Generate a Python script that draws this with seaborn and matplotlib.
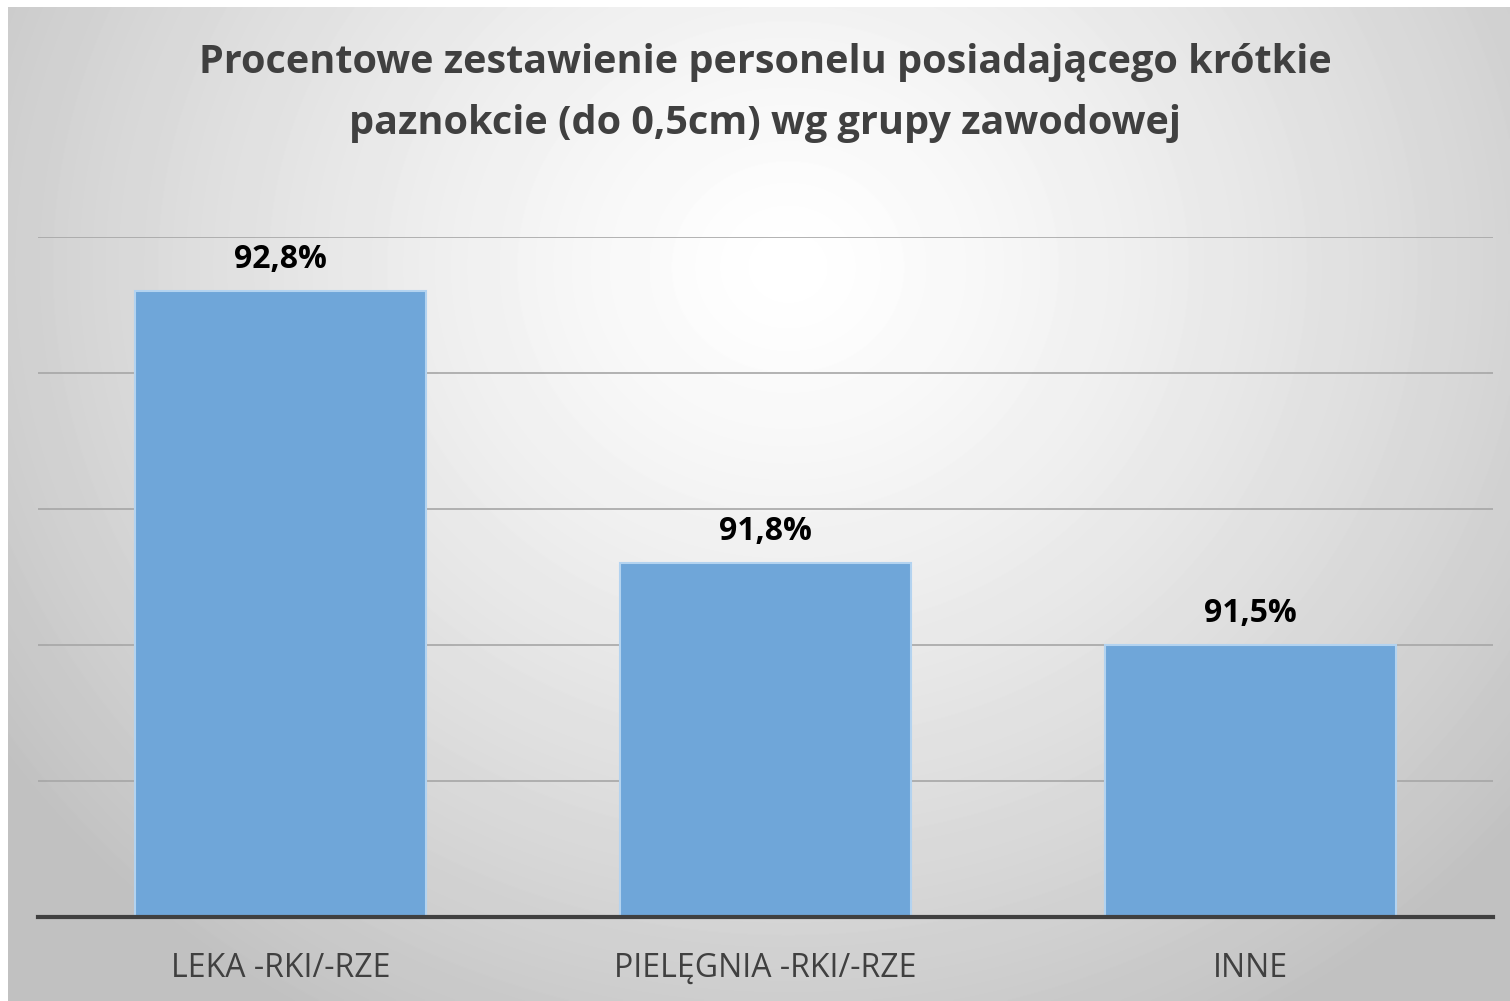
import numpy as np
import pandas as pd
import matplotlib
matplotlib.use("Agg")
import matplotlib.pyplot as plt
import seaborn as sns

# data
groups = ["LEKA -RKI/-RZE", "PIELĘGNIA -RKI/-RZE", "INNE"]
shares = [92.8, 91.8, 91.5]
bar_labels = ["92,8%", "91,8%", "91,5%"]
title = "Procentowe zestawienie personelu posiadającego krótkie\npaznokcie (do 0,5cm) wg grupy zawodowej"

df = pd.DataFrame({"grupa": groups, "procent": shares})

sns.set_theme(style="white")
plt.rcParams["font.family"] = ["Open Sans", "DejaVu Sans"]

W, H = 1510, 1001
fig = plt.figure(figsize=(W / 100, H / 100), dpi=100, facecolor="white")

# radial gradient background (excel style)
bg = fig.add_axes([8 / W, 0, 1 - 8 / W, (H - 7) / H], zorder=-10)
yy, xx = np.mgrid[0:994, 0:1502]
r = np.sqrt((xx - 780) ** 2 + ((yy - 260) * 1.1) ** 2) / 950
shade = 1 - 0.24 * np.clip(r, 0, 1) ** 1.3
bg.imshow(shade, cmap="gray", vmin=0, vmax=1, aspect="auto", interpolation="bilinear")
bg.set_axis_off()

ax = fig.add_axes([38 / W, (H - 917) / H, (1493 - 38) / W, (917 - 237) / H])
ax.set_facecolor("none")

sns.barplot(data=df, x="grupa", y="procent", color="#6fa6d9", saturation=1,
            width=0.6, edgecolor="#b3d3f0", linewidth=1.5, ax=ax, zorder=3)

ax.set_ylim(90.5, 93.0)
ax.set_xlim(-0.5, 2.5)
ax.set_yticks([91.0, 91.5, 92.0, 92.5, 93.0])
ax.yaxis.grid(True, color="#a6a6a6", linewidth=1.2, zorder=0)
ax.set_yticklabels([])
ax.tick_params(axis="y", length=0)
ax.tick_params(axis="x", length=0, pad=25, labelsize=23, labelcolor="#404040")
ax.set_xlabel("")
ax.set_ylabel("")
for side in ["top", "right", "left"]:
    ax.spines[side].set_visible(False)
ax.spines["bottom"].set_color("#404040")
ax.spines["bottom"].set_linewidth(3)
ax.spines["bottom"].set_zorder(5)

ax.bar_label(ax.containers[0], labels=bar_labels, padding=11,
             fontsize=23, fontweight="bold", color="black")

fig.text(765 / W, 1 - 93 / H, title, ha="center", va="center",
         fontsize=28.5, fontweight="bold", color="#404040", linespacing=1.72)

plt.savefig("out.png", dpi=100)
